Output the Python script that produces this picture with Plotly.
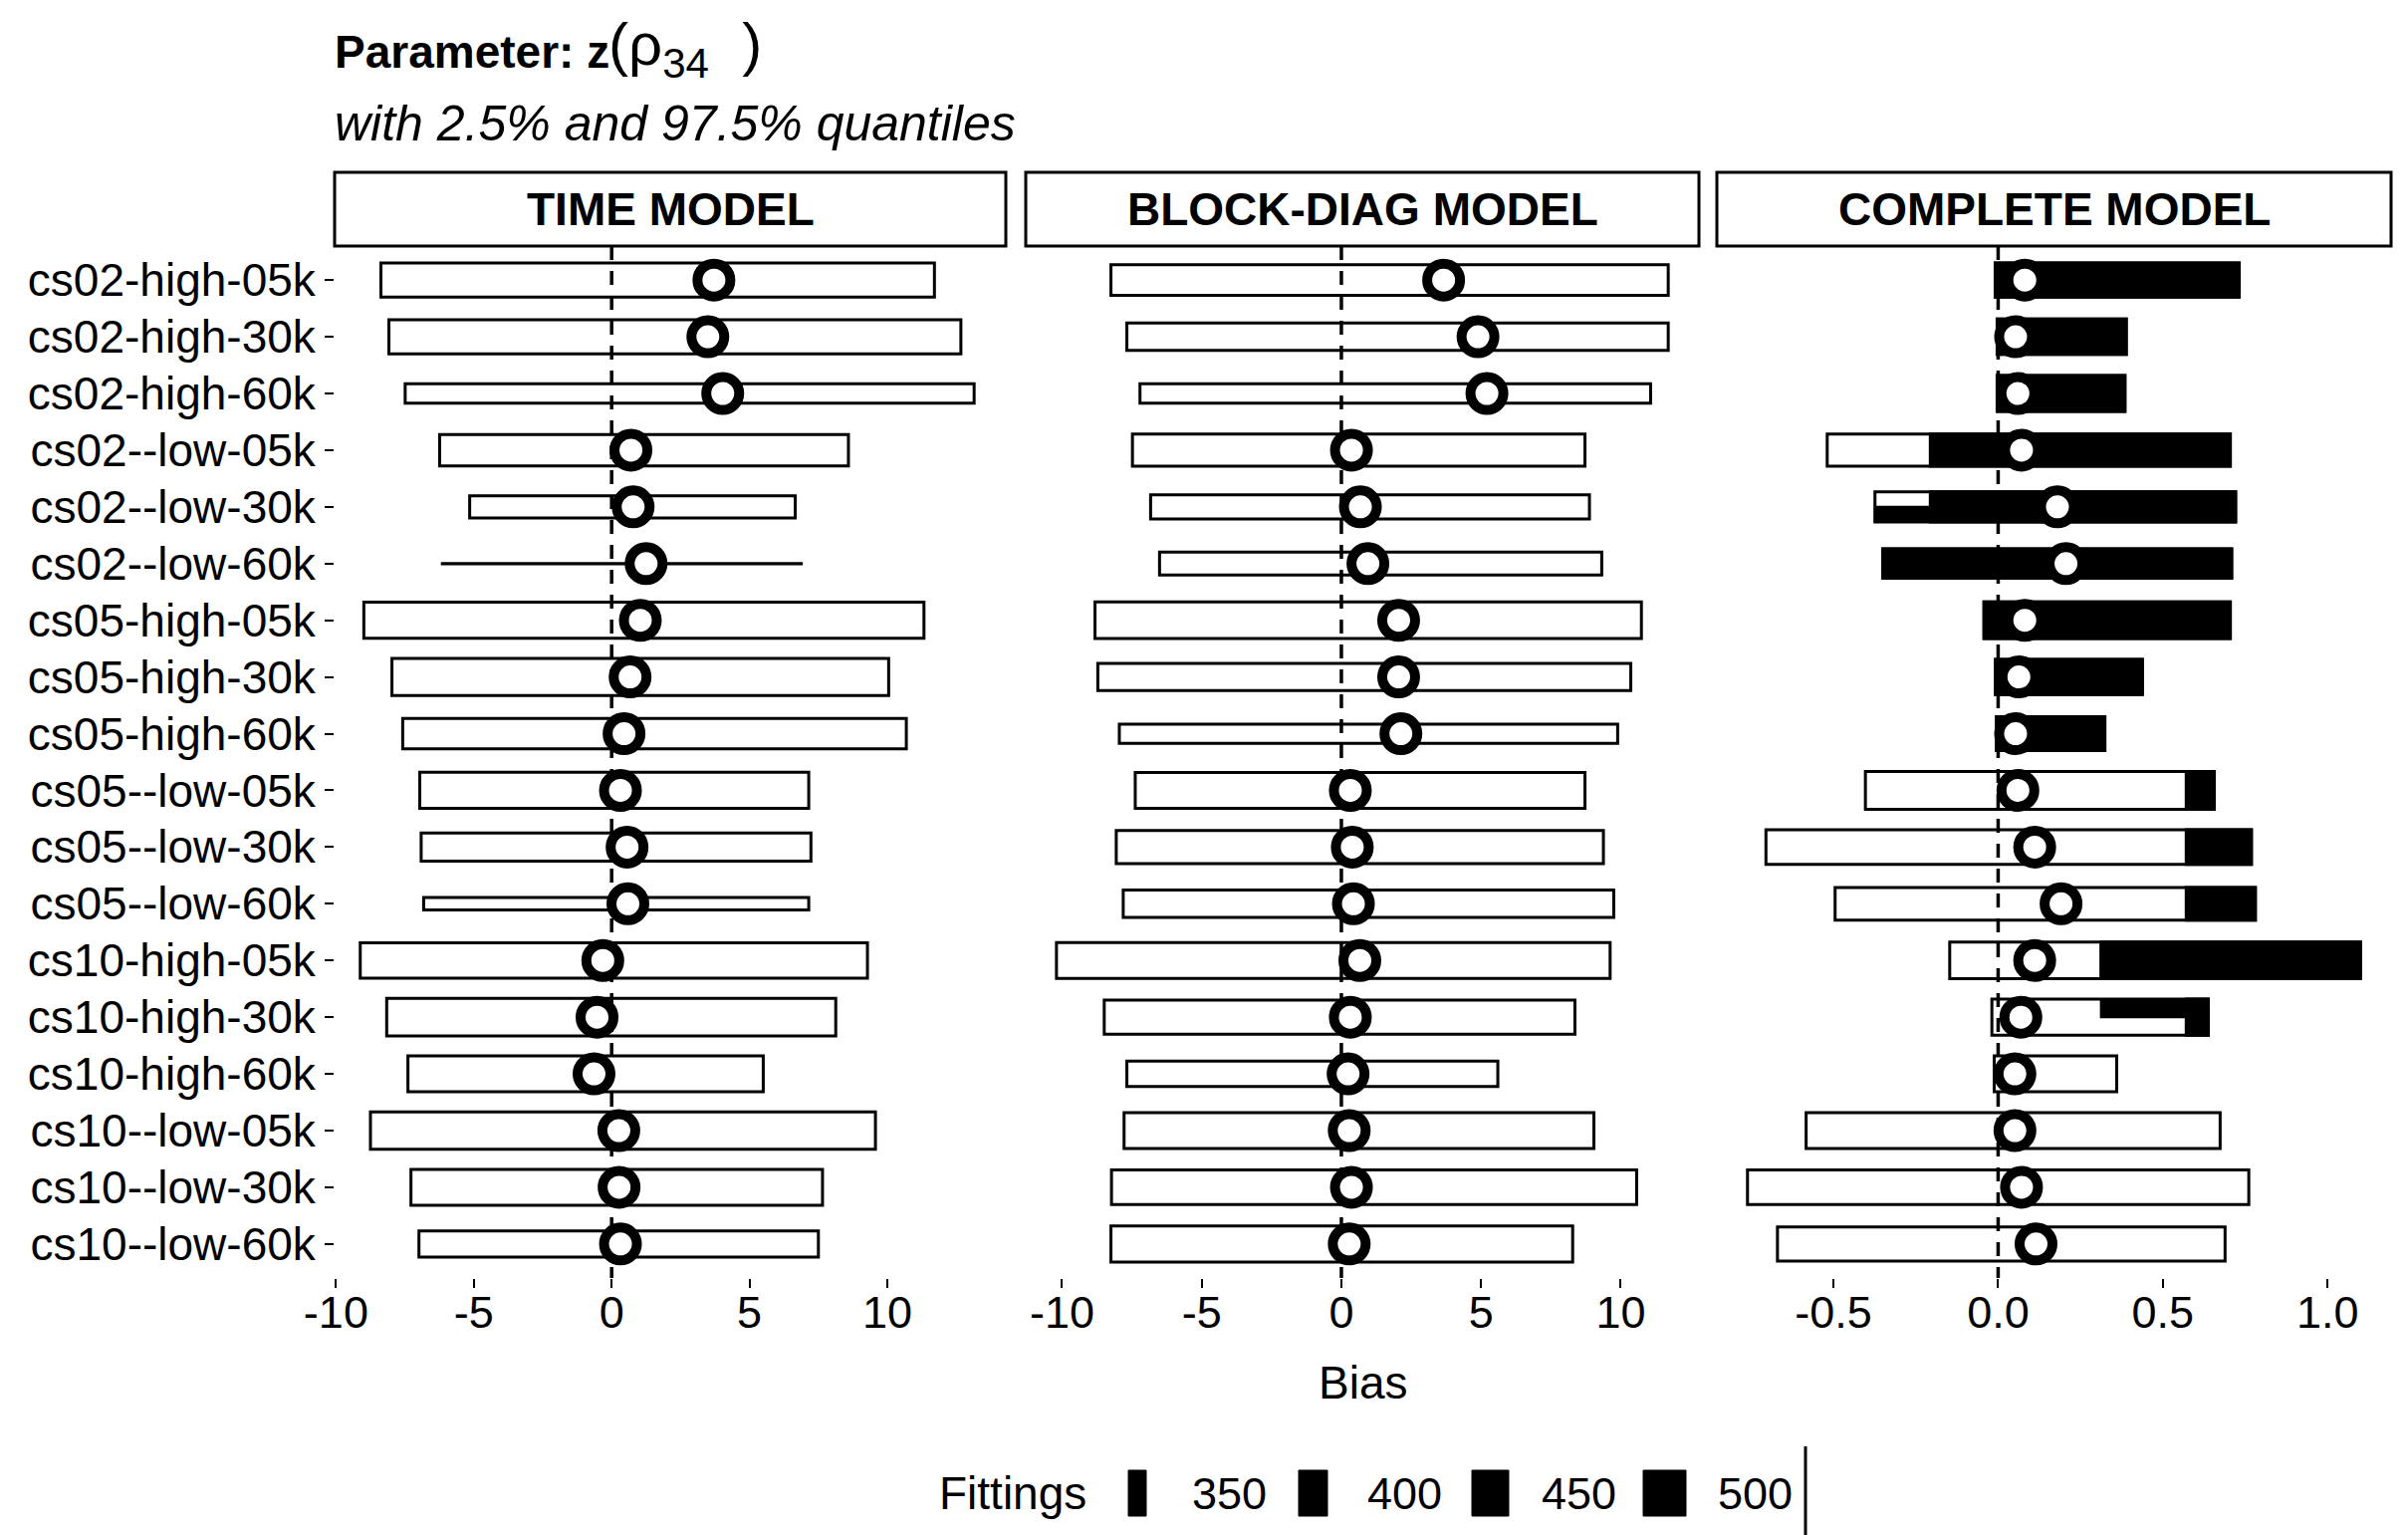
import plotly.graph_objects as go

# ---------------- data ----------------
scenarios = [
    "cs02-high-05k", "cs02-high-30k", "cs02-high-60k",
    "cs02--low-05k", "cs02--low-30k", "cs02--low-60k",
    "cs05-high-05k", "cs05-high-30k", "cs05-high-60k",
    "cs05--low-05k", "cs05--low-30k", "cs05--low-60k",
    "cs10-high-05k", "cs10-high-30k", "cs10-high-60k",
    "cs10--low-05k", "cs10--low-30k", "cs10--low-60k",
]
panel_titles = ["TIME MODEL", "BLOCK-DIAG MODEL", "COMPLETE MODEL"]

time_lo = [-8.37, -8.08, -7.49, -6.24, -5.15, -6.14, -8.99, -7.97, -7.58,
           -6.96, -6.91, -6.82, -9.12, -8.16, -7.39, -8.75, -7.28, -6.99]
time_hi = [11.71, 12.67, 13.15, 8.59, 6.66, 6.88, 11.33, 10.05, 10.69,
           7.15, 7.23, 7.15, 9.28, 8.13, 5.50, 9.57, 7.65, 7.50]
time_mean = [3.71, 3.49, 4.03, 0.70, 0.78, 1.25, 1.04, 0.67, 0.45,
             0.32, 0.56, 0.59, -0.32, -0.53, -0.64, 0.26, 0.27, 0.32]
time_fit = [483, 483, 416, 471, 430, 330, 493, 498, 466,
            493, 457, 385, 489, 500, 492, 498, 492, 448]

block_lo = [-8.25, -7.68, -7.21, -7.48, -6.83, -6.51, -8.82, -8.72, -7.95,
            -7.38, -8.06, -7.81, -10.20, -8.49, -7.68, -7.78, -8.23, -8.25]
block_hi = [11.70, 11.70, 11.07, 8.72, 8.88, 9.32, 10.74, 10.36, 9.89,
            8.72, 9.38, 9.75, 9.62, 8.36, 5.60, 9.04, 10.57, 8.28]
block_mean = [3.66, 4.89, 5.21, 0.36, 0.68, 0.95, 2.05, 2.05, 2.13,
              0.32, 0.39, 0.43, 0.66, 0.32, 0.24, 0.28, 0.36, 0.28]
block_fit = [468, 453, 416, 474, 438, 432, 495, 453, 416,
             492, 480, 453, 492, 483, 444, 492, 486, 492]

complete_lo = [-0.009, -0.003, -0.003, -0.519, -0.374, -0.350, -0.043, -0.008, -0.005,
               -0.403, -0.705, -0.495, -0.147, -0.019, -0.012, -0.583, -0.761, -0.670]
complete_hi = [0.732, 0.389, 0.385, 0.705, 0.721, 0.709, 0.705, 0.438, 0.324,
               0.656, 0.769, 0.781, 1.100, 0.638, 0.360, 0.674, 0.761, 0.689]
complete_mean = [0.081, 0.053, 0.060, 0.071, 0.180, 0.206, 0.081, 0.063, 0.053,
                 0.060, 0.111, 0.191, 0.111, 0.069, 0.051, 0.051, 0.071, 0.115]
complete_fit = [483, 489, 492, 474, 465, 462, 495, 489, 483,
                500, 486, 477, 495, 492, 492, 492, 486, 483]
# dark (filled) part of the complete-model bars: from this value up to the upper quantile
complete_dark_from = [-0.009, -0.003, -0.003, -0.206, -0.206, -0.350, -0.043, -0.008, -0.005,
                      0.571, 0.571, 0.571, 0.312, 0.571, None, None, None, None]
# half-height dark pieces
partial_rows = [4, 13]
partial_from = [-0.374, 0.312]
partial_to = [-0.206, 0.571]
partial_half = ["bottom", "top"]

ticks_bias = [-10, -5, 0, 5, 10]
ticklabels_bias = ["-10", "-5", "0", "5", "10"]
ticks_complete = [-0.5, 0.0, 0.5, 1.0]
ticklabels_complete = ["-0.5", "0.0", "0.5", "1.0"]
legend_breaks = [350, 400, 450, 500]

# x ranges of the three panels (free scales)
xrange_time = [-10.05, 14.3]
xrange_block = [-11.3, 12.8]
xrange_complete = [-0.854, 1.193]

# ---------------- layout constants ----------------
W, H = 2418, 1541
FONT = "Liberation Sans, Arial, Helvetica, sans-serif"
panel_px = [(336, 1010), (1030, 1706), (1724, 2401)]
panel_top, panel_bot = 247, 1283
strip_top = 173


def px_x(x):
    return x / W


def px_y(y):
    return 1 - y / H


def fit_width(f):
    return 0.005 + 0.66 * (f - 330) / 170


pos = list(range(len(scenarios)))
n = len(scenarios)

fig = go.Figure()

panels = [
    (time_lo, time_hi, time_mean, time_fit),
    (block_lo, block_hi, block_mean, block_fit),
    (complete_lo, complete_hi, complete_mean, complete_fit),
]

for i, (lo, hi, mean, fit) in enumerate(panels):
    xa = "x" if i == 0 else f"x{i+1}"
    ya = "y" if i == 0 else f"y{i+1}"
    widths = [fit_width(f) for f in fit]
    fig.add_trace(go.Bar(
        orientation="h", y=pos, base=lo, x=[h - l for l, h in zip(lo, hi)],
        width=widths, marker=dict(color="white", line=dict(color="black", width=3)),
        xaxis=xa, yaxis=ya, showlegend=False, hoverinfo="skip"))
    if i == 2:
        dy, db, dx, dw = [], [], [], []
        for r in range(n):
            if complete_dark_from[r] is not None:
                dy.append(r)
                db.append(complete_dark_from[r])
                dx.append(hi[r] - complete_dark_from[r])
                dw.append(widths[r])
        fig.add_trace(go.Bar(
            orientation="h", y=dy, base=db, x=dx, width=dw,
            marker=dict(color="black", line=dict(color="black", width=3)),
            xaxis=xa, yaxis=ya, showlegend=False, hoverinfo="skip"))
        for r, a, b, half in zip(partial_rows, partial_from, partial_to, partial_half):
            w = widths[r]
            fig.add_trace(go.Bar(
                orientation="h", y=[r], base=[a], x=[b - a], width=[w / 2],
                offset=[-w / 2] if half == "top" else [0],
                marker=dict(color="black", line=dict(color="black", width=2)),
                xaxis=xa, yaxis=ya, showlegend=False, hoverinfo="skip"))
    # dashed zero reference line
    fig.add_trace(go.Scatter(
        x=[0, 0], y=[-0.6, n - 0.4], mode="lines",
        line=dict(color="black", width=3.5, dash="14px,11px"),
        xaxis=xa, yaxis=ya, showlegend=False, hoverinfo="skip"))
    # mean bias points
    fig.add_trace(go.Scatter(
        x=mean, y=pos, mode="markers",
        marker=dict(symbol="circle", size=33, color="white",
                    line=dict(color="black", width=10)),
        xaxis=xa, yaxis=ya, showlegend=False, hoverinfo="skip"))

xranges = [xrange_time, xrange_block, xrange_complete]

layout = dict(
    width=W, height=H, margin=dict(l=0, r=0, t=0, b=0),
    paper_bgcolor="white", plot_bgcolor="white",
    font=dict(family=FONT, color="black", size=45),
    barmode="overlay", showlegend=False,
)
for i in range(3):
    xk = "xaxis" if i == 0 else f"xaxis{i+1}"
    yk = "yaxis" if i == 0 else f"yaxis{i+1}"
    x0, x1 = panel_px[i]
    tv = ticks_complete if i == 2 else ticks_bias
    tt = ticklabels_complete if i == 2 else ticklabels_bias
    layout[xk] = dict(
        domain=[px_x(x0), px_x(x1)], range=xranges[i],
        anchor="y" if i == 0 else f"y{i+1}",
        tickvals=tv, ticktext=tt, ticks="outside", ticklen=9, tickwidth=2,
        tickcolor="black", showgrid=False, zeroline=False, showline=False,
        tickfont=dict(family=FONT, size=45, color="black"), automargin=False,
        ticklabelstandoff=-14, fixedrange=True)
    ydict = dict(
        domain=[px_y(panel_bot), px_y(panel_top)], range=[n - 0.4, -0.6],
        anchor="x" if i == 0 else f"x{i+1}",
        showgrid=False, zeroline=False, showline=False, automargin=False,
        fixedrange=True)
    if i == 0:
        ydict.update(tickvals=pos, ticktext=scenarios, ticks="outside",
                     ticklen=9, tickwidth=2, tickcolor="black",
                     tickfont=dict(family=FONT, size=46, color="black"))
    else:
        ydict.update(showticklabels=False, ticks="")
    layout[yk] = ydict

shapes = []
annotations = []
# strips
for i, title in enumerate(panel_titles):
    x0, x1 = panel_px[i]
    shapes.append(dict(type="rect", xref="paper", yref="paper",
                       x0=px_x(x0), x1=px_x(x1), y0=px_y(panel_top), y1=px_y(strip_top),
                       line=dict(color="black", width=3), fillcolor="white", layer="below"))
    annotations.append(dict(text=f"<b>{title}</b>", xref="paper", yref="paper",
                            x=px_x((x0 + x1) / 2), y=px_y(210), xanchor="center",
                            yanchor="middle", showarrow=False,
                            font=dict(family=FONT, size=46, color="black")))

# title & subtitle
annotations.append(dict(
    text="<b>Parameter: z</b>",
    xref="paper", yref="paper", x=px_x(334), y=px_y(52), xanchor="left", yanchor="middle",
    showarrow=False, font=dict(family=FONT, size=46, color="black")))
annotations.append(dict(
    text="(ρ<sub>34</sub>\u00a0\u00a0)",
    xref="paper", yref="paper", x=px_x(609), y=px_y(49), xanchor="left", yanchor="middle",
    showarrow=False, font=dict(family=FONT, size=60, color="black")))
annotations.append(dict(
    text="<i>with 2.5% and 97.5% quantiles</i>",
    xref="paper", yref="paper", x=px_x(334), y=px_y(124), xanchor="left", yanchor="middle",
    showarrow=False, font=dict(family=FONT, size=50, color="black")))
# axis title
annotations.append(dict(
    text="Bias", xref="paper", yref="paper", x=px_x(1368), y=px_y(1388),
    xanchor="center", yanchor="middle", showarrow=False,
    font=dict(family=FONT, size=46, color="black")))

# legend
leg_y = 1499
annotations.append(dict(
    text="Fittings", xref="paper", yref="paper", x=px_x(941), y=px_y(leg_y),
    xanchor="left", yanchor="middle", showarrow=False,
    font=dict(family=FONT, size=46, color="black")))
key_px = [(1133, 1151), (1304, 1333), (1478, 1515), (1650, 1693)]
label_px = [1195, 1371, 1546, 1723]
for b, (k0, k1), lx in zip(legend_breaks, key_px, label_px):
    shapes.append(dict(type="rect", xref="paper", yref="paper",
                       x0=px_x(k0), x1=px_x(k1), y0=px_y(1522), y1=px_y(1476),
                       line=dict(color="black", width=1), fillcolor="black"))
    annotations.append(dict(
        text=str(b), xref="paper", yref="paper", x=px_x(lx), y=px_y(leg_y),
        xanchor="left", yanchor="middle", showarrow=False,
        font=dict(family=FONT, size=45, color="black")))
shapes.append(dict(type="line", xref="paper", yref="paper",
                   x0=px_x(1813), x1=px_x(1813), y0=px_y(1452), y1=px_y(1541),
                   line=dict(color="black", width=3)))

layout["shapes"] = shapes
layout["annotations"] = annotations
fig.update_layout(**layout)

fig.write_html("out.html", config={"displayModeBar": False},
               post_script="document.body.style.margin='0';")
